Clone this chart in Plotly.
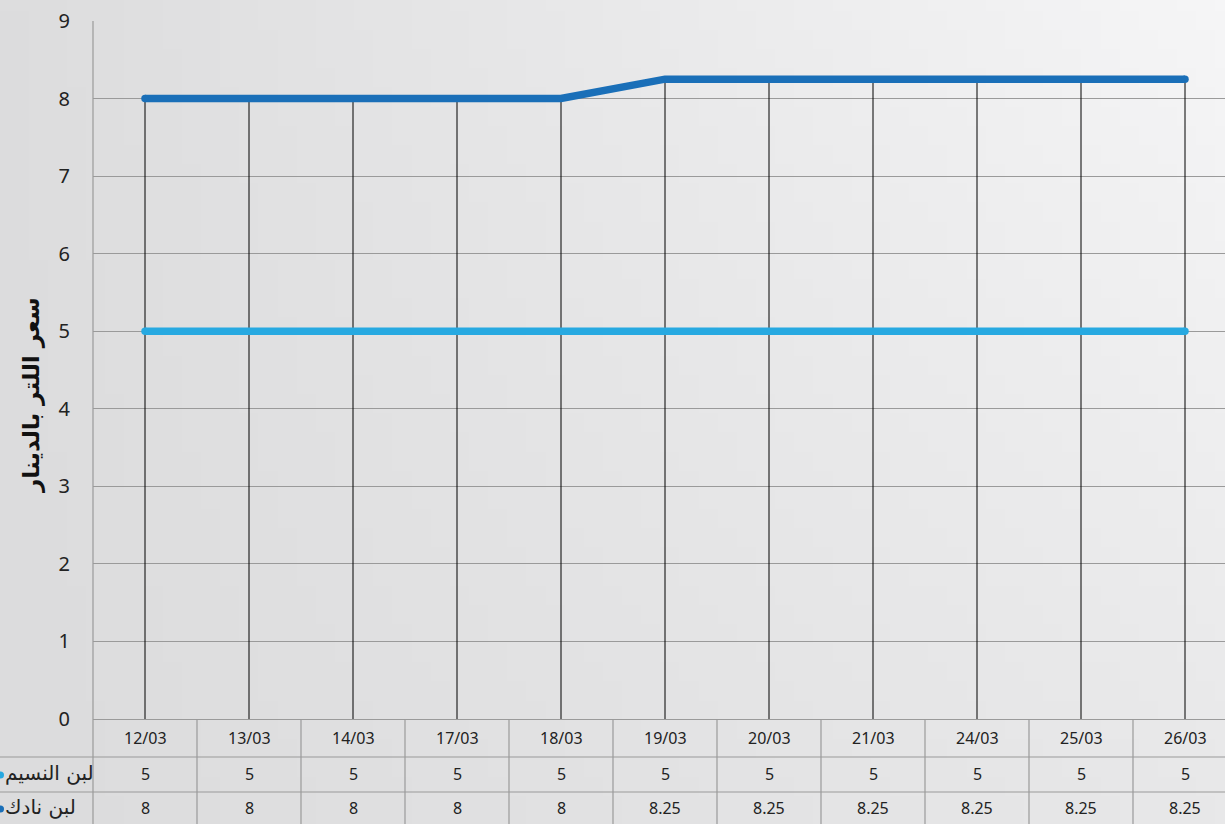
import base64, struct, zlib
import numpy as np
import plotly.graph_objects as go

dates = ["12/03", "13/03", "14/03", "17/03", "18/03", "19/03", "20/03", "21/03", "24/03", "25/03", "26/03"]
naseem = [5, 5, 5, 5, 5, 5, 5, 5, 5, 5, 5]
nadek = [8, 8, 8, 8, 8, 8.25, 8.25, 8.25, 8.25, 8.25, 8.25]
series_names = ["لبن النسيم", "لبن نادك"]
series_colors = ["#27a9e1", "#1a6fb8"]
y_title = "سعر اللتر بالدينار"

W, H = 1225, 824
ML, MR, MT, MB = 93, 0, 21, 105
PW, PH = W - ML - MR, H - MT - MB
XMIN, XMAX = -0.5, -0.5 + PW / 104.0

def py(pix):  # pixel y -> paper y
    return (H - MB - pix) / PH

def pxp(pix):  # pixel x -> paper x
    return (pix - ML) / PW

# gradient background image
gw, gh = 64, 43
u = np.linspace(0, 1, gw)[None, :]
v = np.linspace(0, 1, gh)[:, None]
tl, tr, bl, br = 221, 246, 220, 232
val = tl * (1 - u) * (1 - v) + tr * u * (1 - v) + bl * (1 - u) * v + br * u * v
img = np.clip(val, 0, 254).astype(np.uint8)
rgb = np.stack([img, img, img + 1], axis=-1).astype(np.uint8)
raw = b"".join(b"\x00" + rgb[r].tobytes() for r in range(gh))
def chunk(t, d):
    c = struct.pack(">I", len(d)) + t + d
    return c + struct.pack(">I", zlib.crc32(t + d) & 0xffffffff)
png = b"\x89PNG\r\n\x1a\n" + chunk(b"IHDR", struct.pack(">IIBBBBB", gw, gh, 8, 2, 0, 0, 0)) + chunk(b"IDAT", zlib.compress(raw)) + chunk(b"IEND", b"")
uri = "data:image/png;base64," + base64.b64encode(png).decode()

idx = list(range(len(dates)))
fig = go.Figure()

# drop lines
dx, dy = [], []
for i in idx:
    dx += [i, i, None]
    dy += [0, max(naseem[i], nadek[i]), None]
fig.add_trace(go.Scatter(x=dx, y=dy, mode="lines", line=dict(color="#000000", width=1),
                         hoverinfo="skip", showlegend=False))

for vals, name, col in [(naseem, series_names[0], series_colors[0]), (nadek, series_names[1], series_colors[1])]:
    fig.add_trace(go.Scatter(x=idx, y=vals, mode="lines", name=name,
                             line=dict(color=col, width=7.5), showlegend=False))
    fig.add_trace(go.Scatter(x=[idx[0], idx[-1]], y=[vals[0], vals[-1]], mode="markers",
                             marker=dict(color=col, size=7.5), showlegend=False, hoverinfo="skip"))

grid = "#9a9a9a"
shapes = []
shapes.append(dict(type="line", xref="paper", yref="paper", x0=0, x1=0, y0=1, y1=py(H),
                   line=dict(color=grid, width=1.2)))
for i in idx:
    shapes.append(dict(type="line", xref="x", yref="paper", x0=i + 0.5, x1=i + 0.5, y0=0, y1=py(H),
                       line=dict(color=grid, width=1.2)))
for pix in [757, 792]:
    shapes.append(dict(type="line", xref="paper", yref="paper", x0=pxp(0), x1=1, y0=py(pix), y1=py(pix),
                       line=dict(color=grid, width=1.2)))
for pix, col in [(775, series_colors[0]), (809, series_colors[1])]:
    shapes.append(dict(type="circle", xref="paper", yref="paper",
                       x0=pxp(-3), x1=pxp(4), y0=py(pix + 3.5), y1=py(pix - 3.5),
                       fillcolor=col, line=dict(width=0)))

ann = []
tf = dict(family="Noto Sans, DejaVu Sans", size=16, color="#222222")
for i in idx:
    for txt, pix in [(dates[i], 738), (str(naseem[i]), 774), (str(nadek[i]), 808)]:
        ann.append(dict(x=i, y=py(pix), xref="x", yref="paper", text=txt, showarrow=False, font=tf,
                        xanchor="center", yanchor="middle"))
for name, pix in [(series_names[0], 773), (series_names[1], 807)]:
    ann.append(dict(x=pxp(3), y=py(pix), xref="paper", yref="paper", text=name, showarrow=False,
                    xanchor="left", yanchor="middle",
                    font=dict(family="DejaVu Sans", size=20, color="#222222")))
ann.append(dict(x=pxp(31), y=py(395), xref="paper", yref="paper", text="<b>" + y_title + "</b>",
                textangle=-90, showarrow=False, xanchor="center", yanchor="middle",
                font=dict(family="DejaVu Sans", size=23, color="#111111")))

fig.update_layout(
    width=W, height=H,
    margin=dict(l=ML, r=MR, t=MT, b=MB, pad=0),
    paper_bgcolor="rgba(0,0,0,0)", plot_bgcolor="rgba(0,0,0,0)",
    images=[dict(source=uri, xref="paper", yref="paper", x=pxp(0), y=py(0), sizex=W / PW, sizey=H / PH,
                 xanchor="left", yanchor="top", sizing="stretch", layer="below")],
    xaxis=dict(range=[XMIN, XMAX], showgrid=False, zeroline=False, showticklabels=False,
               showline=False, ticks=""),
    yaxis=dict(range=[0, 9], dtick=1, showgrid=True, gridcolor=grid, gridwidth=1.2, zeroline=True,
               zerolinecolor=grid, zerolinewidth=1.2, showline=False, ticks="",
               ticklabelstandoff=22,
               tickfont=dict(family="Noto Sans, DejaVu Sans", size=20, color="#222222")),
    shapes=shapes, annotations=ann, showlegend=False,
)
fig.write_html("out.html", config={"displayModeBar": False},
               post_script="document.body.style.margin='0px';document.body.style.overflow='hidden';")
